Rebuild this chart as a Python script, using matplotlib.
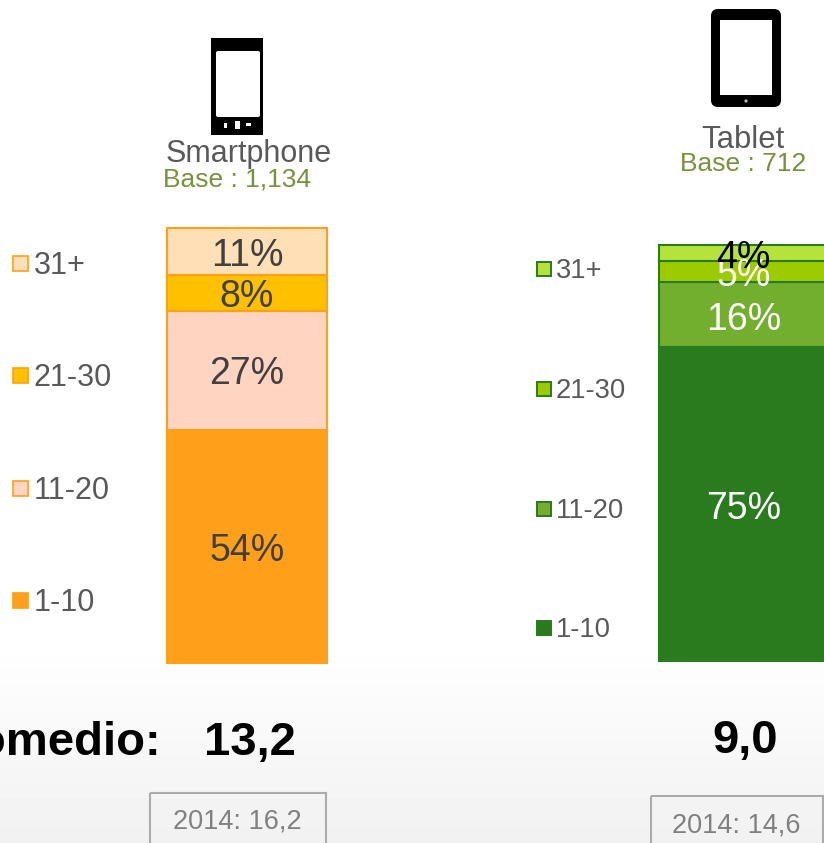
import matplotlib
matplotlib.use("Agg")
from matplotlib import pyplot as plt
from matplotlib.patches import Rectangle, FancyBboxPatch, Ellipse
import numpy as np

plt.rcParams['font.family'] = ['Liberation Sans', 'DejaVu Sans']

categories = ["1-10", "11-20", "21-30", "31+"]
smartphone_values = [53.6, 27.4, 8.2, 10.8]
tablet_values = [75.4, 15.7, 5.0, 3.9]
smartphone_colors = ["#FFA01A", "#FFD5C1", "#FFC000", "#FFDFB6"]
tablet_colors = ["#2A7A1E", "#72AF2F", "#9CCC00", "#B5E33C"]
smartphone_text = ["#404040", "#404040", "#404040", "#404040"]
tablet_text = ["white", "white", "white", "black"]
averages = ["13,2", "9,0"]
previous = ["2014: 16,2", "2014: 14,6"]

W, H = 824, 843
fig = plt.figure(figsize=(W / 100, H / 100), dpi=100)


def px_axes(x0, y0, x1, y1, **kw):
    # pixel box, y counted from the top
    return fig.add_axes([x0 / W, 1 - y1 / H, (x1 - x0) / W, (y1 - y0) / H], **kw)


# background fades to grey towards the bottom
bg = px_axes(0, 0, W, H, zorder=0)
grad = np.ones((H, 1))
grad[640:, 0] = np.linspace(1, 0.945, H - 640)
bg.imshow(grad, cmap="gray", vmin=0, vmax=1, aspect="auto")
bg.axis("off")


def stacked(box, values, colors, edge, text_colors, dy):
    ax = px_axes(*box, zorder=1)
    bottom = 0
    for v, c, tc in zip(values, colors, text_colors):
        ax.bar(0.5, v, width=1, bottom=bottom, color=c, edgecolor=edge, linewidth=1.5, clip_on=False)
        ax.annotate(f"{v:.0f}%", (0.5, bottom + v / 2), xytext=(0, dy), textcoords="offset points",
                    ha="center", va="center", fontsize=27, color=tc, zorder=5, annotation_clip=False)
        bottom += v
    ax.set_xlim(0, 1)
    ax.set_ylim(0, sum(values))
    ax.axis("off")


stacked((167, 228, 327, 663), smartphone_values, smartphone_colors, "#FFA01A", smartphone_text, -3)
stacked((659, 245, 828, 661), tablet_values, tablet_colors, "#2A7A1E", tablet_text, -3.5)

# everything else is placed in pixels
ov = px_axes(0, 0, W, H, zorder=2)
ov.set_xlim(0, W)
ov.set_ylim(H, 0)
ov.axis("off")
ov.patch.set_alpha(0)

grey = "#595959"
olive = "#76923C"
ov.text(249, 154, "Smartphone", ha="center", va="center", fontsize=22, color=grey)
ov.text(163, 180, "Base : 1,134", ha="left", va="center", fontsize=19, color=olive)
ov.text(743, 140, "Tablet", ha="center", va="center", fontsize=22.3, color=grey)
ov.text(743, 164, "Base : 712", ha="center", va="center", fontsize=19, color=olive)

# legends
left_y = [600, 488, 375, 263]
right_y = [628, 509, 389, 269]
for cat, c, y in zip(categories, smartphone_colors, left_y):
    ov.add_patch(Rectangle((13.5, y - 7), 15, 15, fc=c, ec="#FFA01A", lw=1.2))
    ov.text(34, y + 3, cat, va="center", fontsize=22, color=grey)
for cat, c, y in zip(categories, tablet_colors, right_y):
    ov.add_patch(Rectangle((537, y - 7), 14, 14, fc=c, ec="#2A7A1E", lw=1.4))
    ov.text(556, y + 2, cat, va="center", fontsize=19.7, color=grey)

# phone icon
ov.add_patch(Rectangle((211, 38), 52, 97, fc="black", ec="none"))
ov.add_patch(FancyBboxPatch((216, 51), 44, 66, boxstyle="round,pad=0,rounding_size=2", fc="white", ec="none"))
for x, y, w, h in [(224, 123, 3, 5), (235, 121, 5, 8), (246, 123, 5, 3)]:
    ov.add_patch(Rectangle((x, y), w, h, fc="white", ec="none"))

# tablet icon
ov.add_patch(FancyBboxPatch((711, 9), 70, 98, boxstyle="round,pad=0,rounding_size=7", fc="black", ec="none"))
ov.add_patch(Rectangle((720, 20), 52, 75, fc="white", ec="none"))
ov.add_patch(Ellipse((746, 101), 3.2, 3.2, fc="#bbbbbb", ec="none"))

# averages
ov.text(161.5, 743, "Promedio:", ha="right", va="center", fontsize=34, fontweight="bold", color="black")
ov.text(250, 743, averages[0], ha="center", va="center", fontsize=34, fontweight="bold", color="black")
ov.text(745, 741, averages[1], ha="center", va="center", fontsize=34, fontweight="bold", color="black")

# 2014 boxes run off the bottom edge
ov.add_patch(Rectangle((150, 793), 176, 70, fc="none", ec="#ABABAB", lw=1.5))
ov.add_patch(Rectangle((651, 796), 172, 70, fc="none", ec="#ABABAB", lw=1.5))
ov.text(237, 822, previous[0], ha="center", va="center", fontsize=19.5, color="#808080")
ov.text(736, 825, previous[1], ha="center", va="center", fontsize=19.5, color="#808080")

fig.savefig("out.png", dpi=100)
